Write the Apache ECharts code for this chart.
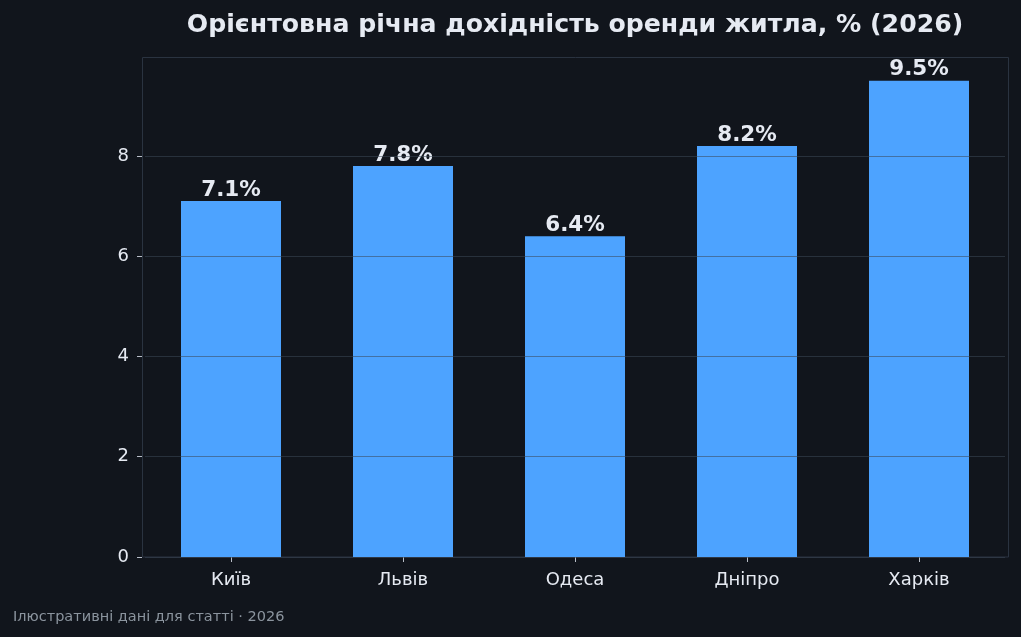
<!DOCTYPE html>
<html lang="uk">
<head>
    <meta charset="UTF-8">
    <title>rent-yield-bar</title>
    <script src="https://cdn.jsdelivr.net/npm/echarts@6/dist/echarts.min.js"></script>
    <style>
        html, body {
            margin: 0;
            padding: 0;
            background: #11151c;
        }

        #main {
            width: 1021px;
            height: 637px;
        }
    </style>
</head>
<body>
<div id="main"></div>
<script>
    // дані
    const cities = ['Київ', 'Львів', 'Одеса', 'Дніпро', 'Харків'];
    const yields = [7.1, 7.8, 6.4, 8.2, 9.5];
    const yTicks = [0, 2, 4, 6, 8];

    const font = 'DejaVu Sans';
    const textColor = '#e6eaf2';
    const frameColor = '#2a3340';
    const tickColor = '#b8bec8';

    let myChart = echarts.init(document.getElementById('main'), null, {renderer: 'canvas'});

    let option = {
        backgroundColor: '#11151c',
        textStyle: {fontFamily: font},
        title: {
            text: 'Орієнтовна річна дохідність оренди житла, % (2026)',
            left: 570,
            textAlign: 'center',
            top: 8,
            textStyle: {color: textColor, fontSize: 25.2, fontWeight: 'bold', fontFamily: font}
        },
        grid: {
            left: 145,
            top: 57,
            width: 860,
            height: 500
        },
        //рамка області графіка
        graphic: [
            {
                type: 'rect',
                z: 0,
                shape: {x: 142.5, y: 57.5, width: 866, height: 499.5},
                style: {fill: null, stroke: frameColor, lineWidth: 1}
            },
            {
                type: 'text',
                left: 13,
                top: 610,
                style: {
                    text: 'Ілюстративні дані для статті · 2026',
                    fill: '#8b949e',
                    font: '14.5px "DejaVu Sans"'
                }
            }
        ],
        xAxis: {
            type: 'category',
            data: cities,
            axisLine: {show: false},
            axisTick: {show: true, alignWithLabel: true, length: 5, lineStyle: {color: tickColor}},
            axisLabel: {color: textColor, fontSize: 18, margin: 14, fontFamily: font}
        },
        yAxis: {
            type: 'value',
            min: 0,
            max: 9.975,
            interval: 2,
            offset: 3,
            z: 3,
            axisLine: {show: false},
            axisTick: {show: true, length: 5, customValues: yTicks, lineStyle: {color: tickColor}},
            axisLabel: {color: textColor, fontSize: 18, margin: 13, customValues: yTicks, fontFamily: font, padding: [3, 0, 0, 0]},
            splitLine: {show: true, lineStyle: {color: 'rgba(60,72,88,0.55)', width: 1}}
        },
        series: [
            {
                type: 'bar',
                data: yields,
                barWidth: 100,
                itemStyle: {color: '#4da3ff'},
                label: {
                    show: true,
                    position: 'top',
                    distance: 0,
                    formatter: '{c}%',
                    color: textColor,
                    fontSize: 21.5,
                    fontWeight: 'bold',
                    fontFamily: font
                }
            }
        ]
    };

    myChart.setOption(option);
</script>
</body>
</html>
